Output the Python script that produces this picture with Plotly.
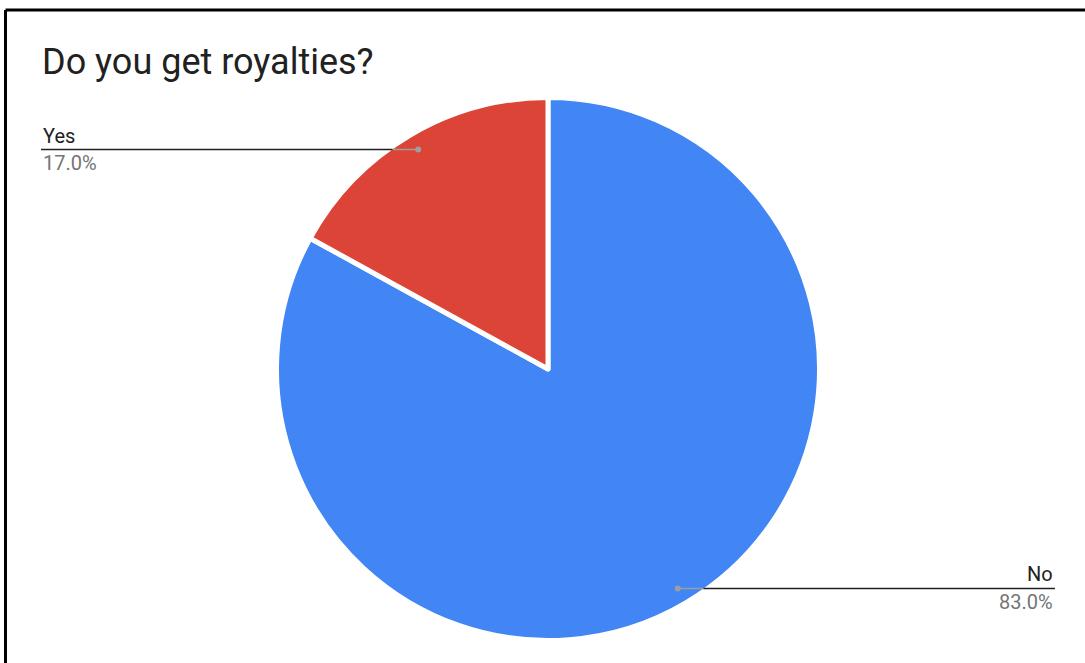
import math
import plotly.graph_objects as go

# Survey answers
categories = ["No", "Yes"]
shares = [83.0, 17.0]
slice_colors = ["#4285F4", "#DB4437"]

W, H = 1085, 663

# Pie geometry in pixels
CX, CY = 548.0, 369.0
R = 271.5          # outer radius incl. white slice border
R_VIS = 269.0      # visible coloured radius
GAP = 5            # white separator width


def px(x):
    return x / W


def py(y):
    return 1 - y / H


fig = go.Figure()
fig.add_trace(go.Pie(
    labels=categories,
    values=shares,
    sort=False,
    direction="clockwise",
    rotation=0,
    marker=dict(colors=slice_colors, line=dict(color="white", width=GAP)),
    textinfo="none",
    hoverinfo="label+percent",
    showlegend=False,
    domain=dict(x=[px(CX - R), px(CX + R)], y=[py(CY + R), py(CY - R)]),
))

shapes = [
    # frame (top and left edges)
    dict(type="line", xref="paper", yref="paper", x0=px(5.5), x1=1.0, y0=py(10), y1=py(10),
         line=dict(color="black", width=3)),
    dict(type="line", xref="paper", yref="paper", x0=px(5.5), x1=px(5.5), y0=py(10), y1=0,
         line=dict(color="black", width=3)),
]
annotations = [
    dict(text="Do you get royalties?", xref="paper", yref="paper",
         x=px(40), y=py(62), xanchor="left", yanchor="middle", showarrow=False,
         font=dict(family="Roboto", size=36, color="#212121")),
]

total = sum(shares)
cum = 0.0
for name, v in zip(categories, shares):
    mid = 2 * math.pi * (cum + v / 2) / total
    cum += v
    dx = math.sin(mid)
    dy = -math.cos(mid)
    kx = CX + dx * R_VIS * 0.948
    ky = CY + dy * R_VIS * 0.948
    edge = math.sqrt(max(R_VIS ** 2 - (ky - CY) ** 2, 0))
    if dx < 0:
        end_x, edge_x, anchor = 41.0, CX - edge, "left"
    else:
        end_x, edge_x, anchor = 1055.0, CX + edge, "right"
    # grey leader part over the slice, dark part outside
    shapes.append(dict(type="line", xref="paper", yref="paper", layer="above",
                       x0=px(kx), x1=px(edge_x), y0=py(ky), y1=py(ky),
                       line=dict(color="#9E9E9E", width=1.5)))
    shapes.append(dict(type="line", xref="paper", yref="paper", layer="above",
                       x0=px(edge_x), x1=px(end_x), y0=py(ky), y1=py(ky),
                       line=dict(color="#212121", width=1.5)))
    shapes.append(dict(type="circle", xref="paper", yref="paper", layer="above",
                       x0=px(kx - 3), x1=px(kx + 3), y0=py(ky - 3), y1=py(ky + 3),
                       fillcolor="#9E9E9E", line=dict(width=0)))
    annotations.append(dict(text=name, xref="paper", yref="paper",
                            x=px(end_x), y=py(ky - 14), xanchor=anchor, yanchor="middle",
                            showarrow=False, font=dict(family="Roboto", size=20, color="#222222")))
    annotations.append(dict(text=f"{v / total * 100:.1f}%", xref="paper", yref="paper",
                            x=px(end_x), y=py(ky + 13.5), xanchor=anchor, yanchor="middle",
                            showarrow=False, font=dict(family="Roboto", size=20, color="#757575")))

fig.update_layout(
    width=W, height=H,
    margin=dict(l=0, r=0, t=0, b=0),
    paper_bgcolor="white",
    plot_bgcolor="white",
    shapes=shapes,
    annotations=annotations,
)

fig.write_html("out.html", config={"displayModeBar": False})
